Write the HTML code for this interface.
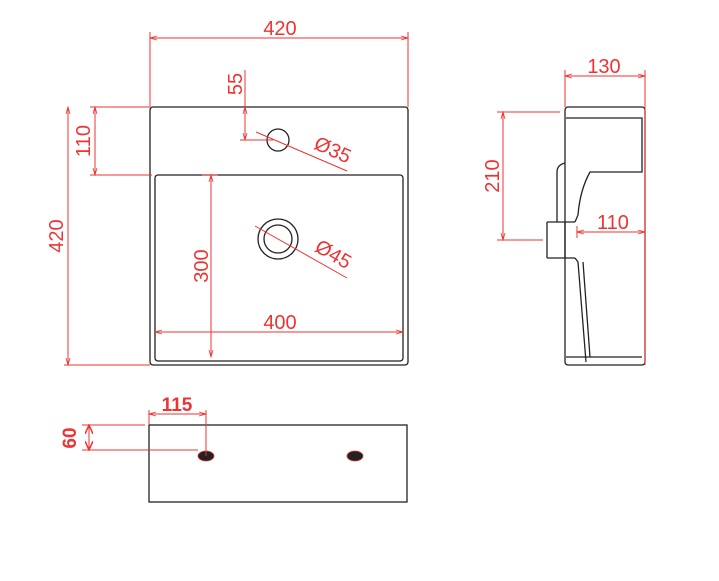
<!DOCTYPE html>
<html><head><style>body{margin:0;background:#fff}svg{display:block}</style></head><body>
<svg width="719" height="581" viewBox="0 0 719 581" xmlns="http://www.w3.org/2000/svg" font-family="Liberation Sans, sans-serif">
<defs>
<marker id="a" markerWidth="8" markerHeight="6" refX="7" refY="3" orient="auto-start-reverse" markerUnits="userSpaceOnUse"><path d="M0,1 L7,3 L0,5" fill="none" stroke="#e33" stroke-width="0.8"/></marker>
<marker id="b" markerWidth="10" markerHeight="8" refX="9" refY="4" orient="auto-start-reverse" markerUnits="userSpaceOnUse"><path d="M0,0 L9,4 L0,8" fill="none" stroke="#e33" stroke-width="1.5"/></marker>
</defs>
<g fill="none" stroke="#222" stroke-width="1.3">
<!-- front -->
<rect x="150" y="107" width="258" height="258" rx="3"/>
<rect x="155" y="175" width="248" height="186" rx="3"/>
<circle cx="278" cy="140" r="11"/>
<circle cx="278" cy="239" r="20"/>
<circle cx="278" cy="239" r="14"/>
<!-- side -->
<rect x="565" y="107" width="80" height="258" rx="3"/>
<path d="M566,118 H642 V172 H590 Q580,190 578,215 L575,222"/>
<path d="M547,222 H575 M547,258 H575 M547,222 V258 M565,222 V258"/>
<path d="M557,222 V172 Q557,165 565,163"/>
<path d="M575,258 L578,262 L586,362"/>
<path d="M583,262 L590,357"/>
<path d="M566,357 H642"/>
<!-- bottom -->
<rect x="149" y="425" width="258" height="77"/>
</g>
<ellipse cx="206" cy="456" rx="8" ry="5" fill="#222" stroke="#e33" stroke-width="0.8"/>
<ellipse cx="355" cy="456" rx="8" ry="5" fill="#222" stroke="#e33" stroke-width="0.8"/>
<g stroke="#e33" stroke-width="1" fill="none">
<path d="M150,32 V107 M408,32 V107"/>
<line x1="150" y1="38" x2="408" y2="38" marker-start="url(#a)" marker-end="url(#a)"/>
<line x1="245" y1="107" x2="245" y2="140" marker-start="url(#a)" marker-end="url(#a)"/>
<path d="M245,70 V140 M240,140 H273"/>
<path d="M256,132 L347,171"/>
<path d="M255,226 L347,278"/>
<path d="M90,107 H150 M90,175 H152 M64,365 H150"/>
<line x1="95" y1="107" x2="95" y2="175" marker-start="url(#a)" marker-end="url(#a)"/>
<line x1="68" y1="107" x2="68" y2="365" marker-start="url(#a)" marker-end="url(#a)"/>
<line x1="211" y1="175" x2="211" y2="357" marker-start="url(#a)" marker-end="url(#a)"/>
<path d="M202,175 H218"/>
<line x1="155" y1="332" x2="403" y2="332" marker-start="url(#a)" marker-end="url(#a)"/>
<path d="M565,70 V107 M645,70 V365"/>
<line x1="565" y1="76" x2="645" y2="76" marker-start="url(#a)" marker-end="url(#a)"/>
<path d="M497,112 H560 M497,240 H543"/>
<line x1="503" y1="112" x2="503" y2="240" marker-start="url(#a)" marker-end="url(#a)"/>
<line x1="577" y1="232" x2="645" y2="232" marker-start="url(#a)" marker-end="url(#a)"/>
<path d="M577,226 V238"/>
<path d="M149,410 V425 M206,410 V456 M82,425 H145 M82,450 H198"/>
<line x1="149" y1="414" x2="206" y2="414" marker-start="url(#a)" marker-end="url(#a)"/>
<line x1="89" y1="425" x2="89" y2="450" marker-start="url(#b)" marker-end="url(#b)"/>
</g>
<g fill="#e33" font-size="20">
<text x="280" y="35" text-anchor="middle">420</text>
<text transform="translate(242,84) rotate(-90)" text-anchor="middle">55</text>
<text transform="translate(90,141) rotate(-90)" text-anchor="middle">110</text>
<text transform="translate(63,236) rotate(-90)" text-anchor="middle">420</text>
<text transform="translate(208,266) rotate(-90)" text-anchor="middle">300</text>
<text x="280" y="329" text-anchor="middle">400</text>
<text transform="translate(330,156) rotate(24)" text-anchor="middle">Ø35</text>
<text transform="translate(330,260) rotate(30)" text-anchor="middle">Ø45</text>
<text x="604" y="73" text-anchor="middle">130</text>
<text transform="translate(499,176) rotate(-90)" text-anchor="middle">210</text>
<text x="613" y="229" text-anchor="middle">110</text>
<text x="177" y="411" text-anchor="middle" font-weight="bold" font-size="19">115</text>
<text transform="translate(76,438) rotate(-90)" text-anchor="middle" font-weight="bold" font-size="19">60</text>
</g>
</svg>
</body></html>
